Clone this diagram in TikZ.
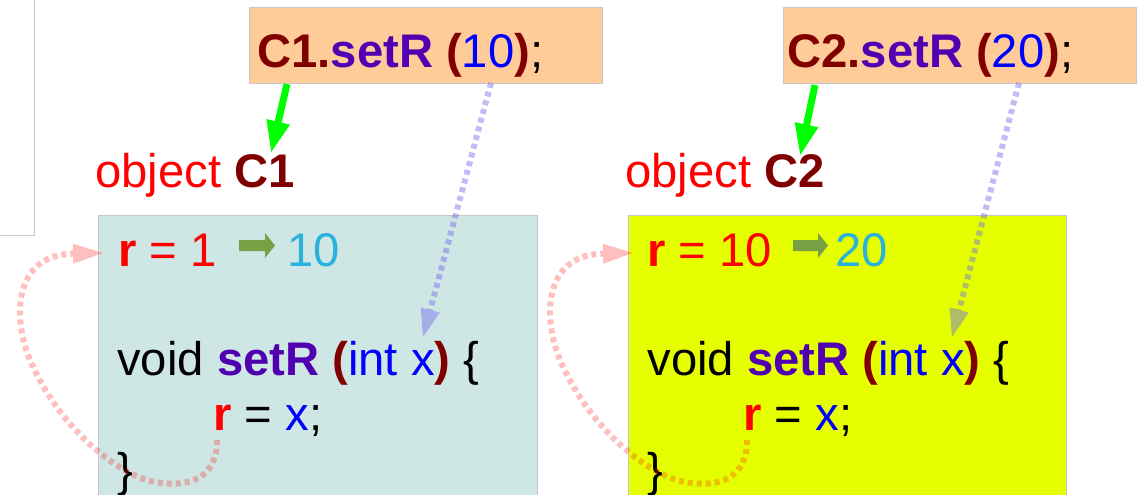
\documentclass[tikz,border=0pt]{standalone}
\usepackage{fontspec}
\setmainfont{Liberation Sans}
\usetikzlibrary{arrows.meta}

\definecolor{callfill}{RGB}{255,204,153}
\definecolor{objfill}{RGB}{207,231,228}
\definecolor{objfilltwo}{RGB}{230,255,0}
\definecolor{framegray}{RGB}{200,200,200}
\definecolor{objname}{RGB}{128,0,0}
\definecolor{method}{RGB}{80,0,176}
\definecolor{newval}{RGB}{42,178,222}
\definecolor{valarrow}{RGB}{118,160,68}
\definecolor{argblue}{RGB}{110,110,235}

\newcommand{\objtxt}[1]{\textbf{\color{objname}#1}}
\newcommand{\methtxt}[1]{\textbf{\color{method}#1}}
\newcommand{\fieldtxt}[1]{\textbf{\color{red}#1}}

\begin{document}
\begin{tikzpicture}[x=0.5pt, y=-0.5pt,
    code/.style={font=\fontsize{23.6}{28}\selectfont, inner sep=0pt, anchor=base west},
    setarrow/.style={line width=3.5pt, green, -{Triangle[width=11pt,length=16pt]}},
    argarrow/.style={line width=3pt, argblue, opacity=0.45, dash pattern=on 2.5pt off 2pt,
      -{Triangle[width=10pt,length=14pt,line width=0pt]}},
    backarrow/.style={line width=3pt, red, opacity=0.25, dash pattern=on 2.5pt off 2pt,
      -{Triangle[width=10pt,length=15pt,line width=0pt]}}]
  \useasboundingbox (0,0) rectangle (1137,494);

  % frame corner at the top left
  \draw[framegray] (34,-2) -- (34,235) -- (-2,235);

  % object C1
  \begin{scope}[shift={(0,0)}]
    \draw[framegray, fill=callfill] (249,7) rectangle (602,83);
    \node[code] (call1) at (257,67) {\objtxt{C1.}\methtxt{setR} \objtxt{(}{\color{blue}10}\objtxt{)};};
    \node[code] (obj1) at (95,187) {{\color{red}object} \objtxt{C1}};
    \draw[framegray, fill=objfill] (98,215) rectangle (537,500);
    \node[code] (rold1) at (118,266) {\fieldtxt{r} {\color{red}= 1}};
    \fill[valarrow] (239,240) -- (265,240) -- (265,233) -- (275,245.5) -- (265,258) -- (265,251) -- (239,251) -- cycle;
    \node[code] (rnew1) at (287,266) {\color{newval}10};
    \node[code] (sig1) at (117,375) {void \methtxt{setR} \objtxt{(}{\color{blue}int x}\objtxt{)} \{};
    \node[code] (body1) at (213,430) {\fieldtxt{r} = {\color{blue}x};};
    \node[code] (close1) at (117,486) {\}};

    \coordinate (callout1) at (287,84);
    \coordinate (objin1) at (271,153);
    \coordinate (argout1) at (491,83);
    \coordinate (parin1) at (423,337);
    \coordinate (assign1) at (217,440);
    \coordinate (field1) at (103,253);
    \draw[setarrow] (callout1) -- (objin1);
    \draw[argarrow] (argout1) -- (parin1);
    \draw[backarrow] (assign1) .. controls (217,478) and (190,488) .. (155,482)
      .. controls (120,476) and (60,430) .. (30,360)
      .. controls (13,320) and (12,255) .. (field1);
  \end{scope}

  % object C2
  \begin{scope}[shift={(530,0)}]
    \draw[framegray, fill=callfill] (253,7) rectangle (606,83);
    \node[code] (call2) at (257,67) {\objtxt{C2.}\methtxt{setR} \objtxt{(}{\color{blue}20}\objtxt{)};};
    \node[code] (obj2) at (95,187) {{\color{red}object} \objtxt{C2}};
    \draw[framegray, fill=objfilltwo] (98,215) rectangle (536,500);
    \node[code] (rold2) at (117,266) {\fieldtxt{r} {\color{red}= 10}};
    \fill[valarrow] (263,240) -- (288,240) -- (288,233) -- (298,245.5) -- (288,258) -- (288,251) -- (263,251) -- cycle;
    \node[code] (rnew2) at (305,266) {\color{newval}20};
    \node[code] (sig2) at (117,375) {void \methtxt{setR} \objtxt{(}{\color{blue}int x}\objtxt{)} \{};
    \node[code] (body2) at (213,430) {\fieldtxt{r} = {\color{blue}x};};
    \node[code] (close2) at (117,486) {\}};

    \coordinate (callout2) at (285,85);
    \coordinate (objin2) at (270,156);
    \coordinate (argout2) at (489,83);
    \coordinate (parin2) at (422,337);
    \coordinate (assign2) at (217,440);
    \coordinate (field2) at (103,253);
    \draw[setarrow] (callout2) -- (objin2);
    \draw[argarrow] (argout2) -- (parin2);
    \draw[backarrow] (assign2) .. controls (217,478) and (190,488) .. (155,482)
      .. controls (120,476) and (60,430) .. (30,360)
      .. controls (13,320) and (12,255) .. (field2);
  \end{scope}
\end{tikzpicture}
\end{document}
